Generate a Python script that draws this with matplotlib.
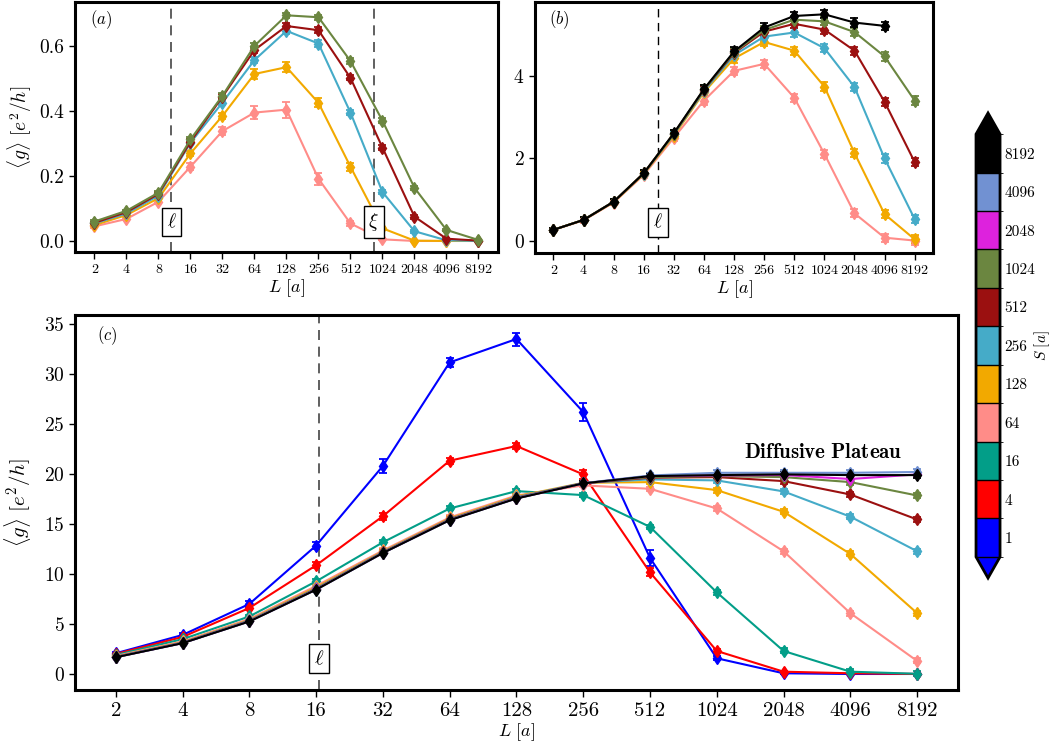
import numpy as np
import matplotlib
matplotlib.use("Agg")
from matplotlib import pyplot as plt
from matplotlib.colors import ListedColormap, BoundaryNorm
from matplotlib.cm import ScalarMappable

plt.rcParams["font.family"] = ["cmr10", "DejaVu Serif"]
plt.rcParams["mathtext.fontset"] = "cm"
plt.rcParams["axes.formatter.use_mathtext"] = True

# 系统尺寸 L 与 S 值
L = [2, 4, 8, 16, 32, 64, 128, 256, 512, 1024, 2048, 4096, 8192]
S_VALUES = [1, 4, 16, 64, 128, 256, 512, 1024, 2048, 4096, 8192]
S_COLORS = ["#0000ff", "#ff0000", "#029e88", "#ff8c88", "#f2a900", "#45abc8",
            "#9b1010", "#6b8640", "#dd22dd", "#7191d2", "#000000"]

# (a)
A_S64 = [0.045, 0.068, 0.121, 0.229, 0.339, 0.396, 0.405, 0.192, 0.054, 0.005, 0.0, 0.0, 0.0]
A_S128 = [0.049, 0.080, 0.132, 0.270, 0.386, 0.515, 0.536, 0.426, 0.229, 0.039, 0.001, 0.0, 0.0]
A_S256 = [0.054, 0.085, 0.140, 0.303, 0.427, 0.558, 0.648, 0.609, 0.396, 0.151, 0.030, 0.002, 0.0]
A_S512 = [0.056, 0.089, 0.145, 0.306, 0.445, 0.589, 0.663, 0.650, 0.503, 0.288, 0.075, 0.007, 0.001]
A_S1024 = [0.060, 0.093, 0.149, 0.313, 0.448, 0.602, 0.696, 0.690, 0.555, 0.371, 0.164, 0.034, 0.003]
A_E64 = [0.004, 0.004, 0.005, 0.010, 0.012, 0.020, 0.025, 0.018, 0.008, 0.003, 0.001, 0.001, 0.001]
A_E128 = [0.004, 0.004, 0.005, 0.008, 0.010, 0.014, 0.016, 0.014, 0.012, 0.005, 0.002, 0.001, 0.001]
A_E256 = [0.004, 0.004, 0.005, 0.007, 0.008, 0.010, 0.010, 0.012, 0.009, 0.007, 0.005, 0.002, 0.001]
A_E512 = [0.004, 0.004, 0.005, 0.007, 0.008, 0.009, 0.009, 0.010, 0.008, 0.008, 0.006, 0.003, 0.001]
A_E1024 = [0.004, 0.004, 0.005, 0.007, 0.008, 0.008, 0.008, 0.008, 0.008, 0.008, 0.006, 0.003, 0.001]

# (b)
B_S64 = [0.27, 0.50, 0.93, 1.60, 2.50, 3.40, 4.12, 4.29, 3.47, 2.11, 0.67, 0.08, 0.01]
B_S128 = [0.27, 0.51, 0.94, 1.62, 2.55, 3.60, 4.42, 4.82, 4.61, 3.74, 2.13, 0.65, 0.04]
B_S256 = [0.27, 0.51, 0.95, 1.63, 2.58, 3.63, 4.50, 4.95, 5.05, 4.67, 3.73, 2.00, 0.53]
B_S512 = [0.27, 0.51, 0.95, 1.64, 2.60, 3.66, 4.55, 5.07, 5.26, 5.12, 4.61, 3.37, 1.91]
B_S1024 = [0.27, 0.51, 0.95, 1.64, 2.60, 3.67, 4.57, 5.11, 5.36, 5.32, 5.06, 4.47, 3.40]
B_S8192 = [0.27, 0.51, 0.95, 1.64, 2.61, 3.68, 4.59, 5.17, 5.45, 5.49, 5.29, 5.21]
B_ERR = [0.05, 0.06, 0.07, 0.08, 0.09, 0.10, 0.10, 0.10, 0.10, 0.10, 0.10, 0.10, 0.10]

# (c)
C_S1 = [2.07, 3.90, 7.00, 12.84, 20.80, 31.16, 33.50, 26.20, 11.60, 1.57, 0.07, 0.0, 0.0]
C_S4 = [2.00, 3.70, 6.60, 10.87, 15.78, 21.33, 22.80, 19.96, 10.16, 2.30, 0.23, 0.07, 0.0]
C_S16 = [1.90, 3.48, 5.75, 9.26, 13.17, 16.55, 18.29, 17.89, 14.71, 8.16, 2.30, 0.23, 0.02]
C_S64 = [1.80, 3.25, 5.50, 8.80, 12.35, 15.65, 17.85, 18.86, 18.52, 16.55, 12.27, 6.08, 1.30]
C_S128 = [1.75, 3.18, 5.40, 8.65, 12.25, 15.55, 17.75, 19.12, 19.19, 18.39, 16.22, 12.00, 6.08]
C_S256 = [1.72, 3.14, 5.35, 8.55, 12.20, 15.48, 17.68, 19.10, 19.46, 19.36, 18.26, 15.73, 12.27]
C_S512 = [1.70, 3.12, 5.30, 8.50, 12.15, 15.45, 17.62, 19.08, 19.63, 19.69, 19.29, 17.95, 15.45]
C_S1024 = [1.69, 3.10, 5.28, 8.47, 12.12, 15.42, 17.58, 19.07, 19.70, 19.79, 19.69, 19.19, 17.85]
C_S2048 = [1.68, 3.09, 5.27, 8.45, 12.11, 15.40, 17.57, 19.06, 19.80, 19.85, 19.90, 19.50, 19.96]
C_S4096 = [1.68, 3.09, 5.26, 8.44, 12.10, 15.39, 17.56, 19.08, 19.85, 20.12, 20.12, 20.12, 20.20]
C_S8192 = [1.67, 3.08, 5.25, 8.43, 12.10, 15.38, 17.55, 19.06, 19.79, 19.89, 19.96, 19.89, 19.89]
C_E1 = [0.15, 0.20, 0.30, 0.35, 0.70, 0.45, 0.65, 0.90, 0.80, 0.20, 0.05, 0.02, 0.02]
C_E4 = [0.10, 0.15, 0.20, 0.30, 0.35, 0.30, 0.30, 0.45, 0.40, 0.20, 0.10, 0.05, 0.02]
C_ERR = [0.10, 0.12, 0.15, 0.20, 0.20, 0.20, 0.20, 0.20, 0.20, 0.25, 0.25, 0.25, 0.25]

# 特征长度
A_ELL, A_XI, B_ELL, C_ELL = 10.6, 849, 22.3, 16.5

XLIM = (2 ** 0.39, 2 ** 13.61)


def style_axes(ax, tick_size, label_size, xtick_size):
    ax.set_xscale("log", base=2)
    ax.set_xlim(*XLIM)
    ax.set_xticks(L)
    ax.set_xticklabels([str(v) for v in L], fontsize=xtick_size)
    ax.minorticks_off()
    ax.tick_params(axis="y", labelsize=tick_size, direction="out", length=4, width=1)
    ax.tick_params(axis="x", direction="out", length=5, width=1)
    for sp in ax.spines.values():
        sp.set_linewidth(2.2)
    ax.set_xlabel(r"$L\ [a]$", fontsize=label_size, labelpad=1)


def draw(ax, y, err, color, ms=6):
    x = L[: len(y)]
    ax.errorbar(x, y, yerr=err[: len(y)], fmt="-d", color=color, ms=ms, lw=1.5,
                elinewidth=1.3, capsize=3, capthick=1.3)


def marker_box(ax, x, y, text, size):
    ax.text(x, y, text, fontsize=size, ha="center", va="center",
            bbox=dict(boxstyle="square,pad=0.25", fc="white", ec="black", lw=1.0))


fig = plt.figure(figsize=(10.53, 7.44), dpi=100)
col = dict(zip(S_VALUES, S_COLORS))

# (a)
ax_a = fig.add_axes([0.0712, 0.6613, 0.4017, 0.336])
for y, e, s in [(A_S64, A_E64, 64), (A_S128, A_E128, 128), (A_S256, A_E256, 256),
                (A_S512, A_E512, 512), (A_S1024, A_E1024, 1024)]:
    draw(ax_a, y, e, col[s])
ax_a.set_ylim(-0.034, 0.737)
ax_a.set_yticks([0.0, 0.2, 0.4, 0.6])
ax_a.set_yticklabels(["0.0", "0.2", "0.4", "0.6"])
style_axes(ax_a, 14, 13, 10)
ax_a.set_ylabel(r"$\langle g\rangle\ [e^2/h]$", fontsize=14, labelpad=4)
ax_a.axvline(A_ELL, color="#444444", ls=(0, (6, 4)), lw=1.2)
ax_a.axvline(A_XI, color="#444444", ls=(0, (6, 4)), lw=1.2)
marker_box(ax_a, A_ELL, 0.058, r"$\ell$", 14)
marker_box(ax_a, A_XI, 0.058, r"$\xi$", 14)
ax_a.text(0.035, 0.93, r"$(a)$", transform=ax_a.transAxes, fontsize=12, va="center")

# (b)
ax_b = fig.add_axes([0.5081, 0.66, 0.378, 0.3374])
for y, s in [(B_S64, 64), (B_S128, 128), (B_S256, 256), (B_S512, 512),
             (B_S1024, 1024), (B_S8192, 8192)]:
    draw(ax_b, y, B_ERR, col[s])
ax_b.set_ylim(-0.29, 5.79)
ax_b.set_yticks([0, 2, 4])
style_axes(ax_b, 14, 13, 10)
ax_b.axvline(B_ELL, color="black", ls=(0, (6, 4)), lw=1.0)
marker_box(ax_b, B_ELL, 0.45, r"$\ell$", 14)
ax_b.text(0.035, 0.93, r"$(b)$", transform=ax_b.transAxes, fontsize=12, va="center")

# (c)
ax_c = fig.add_axes([0.0712, 0.0726, 0.8385, 0.504])
c_series = [C_S1, C_S4, C_S16, C_S64, C_S128, C_S256, C_S512, C_S1024,
            C_S2048, C_S4096, C_S8192]
c_errs = [C_E1, C_E4] + [C_ERR] * 9
for y, e, s in zip(c_series, c_errs, S_VALUES):
    draw(ax_c, y, e, col[s], ms=6.5)
ax_c.set_ylim(-1.6, 35.9)
ax_c.set_yticks([0, 5, 10, 15, 20, 25, 30, 35])
style_axes(ax_c, 14, 13, 15)
ax_c.set_ylabel(r"$\langle g\rangle\ [e^2/h]$", fontsize=15, labelpad=8)
ax_c.axvline(C_ELL, color="#444444", ls=(0, (6, 4)), lw=1.2)
marker_box(ax_c, C_ELL, 1.5, r"$\ell$", 15)
ax_c.text(0.025, 0.945, r"$(c)$", transform=ax_c.transAxes, fontsize=12, va="center")
ax_c.text(3080, 22.2, r"$\mathbf{Diffusive\ Plateau}$", fontsize=15,
          ha="center", va="center")

# 色标
cmap = ListedColormap(S_COLORS).with_extremes(under=S_COLORS[0], over=S_COLORS[-1])
bounds = np.arange(len(S_VALUES) + 1)
norm = BoundaryNorm(bounds, len(S_COLORS))
cax = fig.add_axes([0.9269, 0.2231, 0.0228, 0.625])
cb = fig.colorbar(ScalarMappable(norm=norm, cmap=cmap), cax=cax, extend="both",
                  ticks=bounds[:-1] + 0.5, drawedges=True)
cb.ax.set_yticklabels([str(s) for s in S_VALUES], fontsize=11)
cb.ax.tick_params(length=0, pad=3)
cb.outline.set_linewidth(2)
cb.dividers.set_linewidth(1)
cb.set_label(r"$S\ [a]$", fontsize=11)
cb.ax.yaxis.set_label_coords(2.35, 0.5)

fig.savefig("out.png", dpi=100)
